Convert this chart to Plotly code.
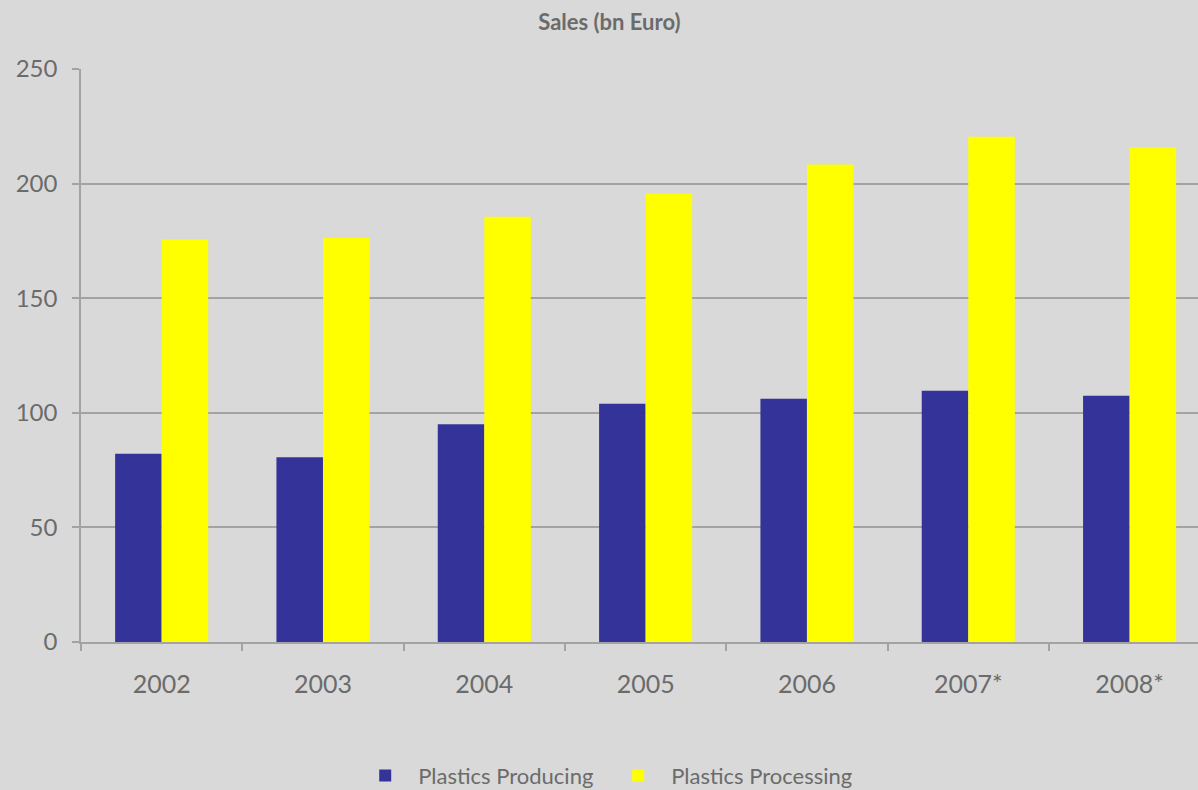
import plotly.graph_objects as go

# Sales of the plastics industry, bn Euro (* = estimate)
years = ["2002", "2003", "2004", "2005", "2006", "2007*", "2008*"]
plastics_producing = [82.1, 80.6, 95.0, 103.9, 106.1, 109.6, 107.4]
plastics_processing = [175.6, 176.3, 185.5, 195.6, 208.3, 220.4, 215.7]

y_ticks = [0, 50, 100, 150, 200, 250]

BG = "#D9D9D9"
GRID = "#A3A3A3"
TEXT = "#6B6B6B"
FONT = "Lato, 'Open Sans', sans-serif"

fig = go.Figure()
fig.add_trace(go.Bar(
    x=years, y=plastics_producing, name="Plastics Producing",
    marker=dict(color="#333399", line=dict(width=0)),
))
fig.add_trace(go.Bar(
    x=years, y=plastics_processing, name="Plastics Processing",
    marker=dict(color="#FFFF00", line=dict(width=0)),
))

fig.update_layout(
    width=1198, height=790,
    paper_bgcolor=BG, plot_bgcolor=BG,
    margin=dict(l=81, r=0, t=69, b=148, autoexpand=False),
    barmode="group", bargap=0.423, bargroupgap=0,
    font=dict(family=FONT, color=TEXT, size=22),
    title=dict(
        text="<b>Sales (bn Euro)</b>",
        font=dict(family=FONT, size=22, color=TEXT),
        x=0.473, xref="paper", xanchor="center",
        y=0.972, yref="container", yanchor="middle",
    ),
    legend=dict(
        orientation="h", x=0.294, xanchor="left", xref="container",
        y=0.018, yanchor="middle", yref="container",
        font=dict(family=FONT, size=22, color=TEXT),
        bgcolor="rgba(0,0,0,0)", itemwidth=56, entrywidth=182,
        traceorder="normal",
    ),
    showlegend=True,
)

fig.update_xaxes(
    type="category", range=[-0.5, 6.424],
    showgrid=False, showline=True, linecolor=GRID, linewidth=1.5,
    ticks="outside", tickson="boundaries", ticklen=7, tickwidth=1.5,
    tickcolor=GRID, tickfont=dict(size=25, color=TEXT),
    ticklabelstandoff=19,
)
fig.update_yaxes(
    range=[0, 250], tickvals=y_ticks, showgrid=True,
    gridcolor=GRID, gridwidth=1.5, zeroline=False,
    showline=True, linecolor=GRID, linewidth=1.5,
    ticks="outside", ticklen=7, tickwidth=1.5, tickcolor=GRID,
    tickfont=dict(size=24, color=TEXT), ticklabelstandoff=10,
)

fig.write_html("out.html")
